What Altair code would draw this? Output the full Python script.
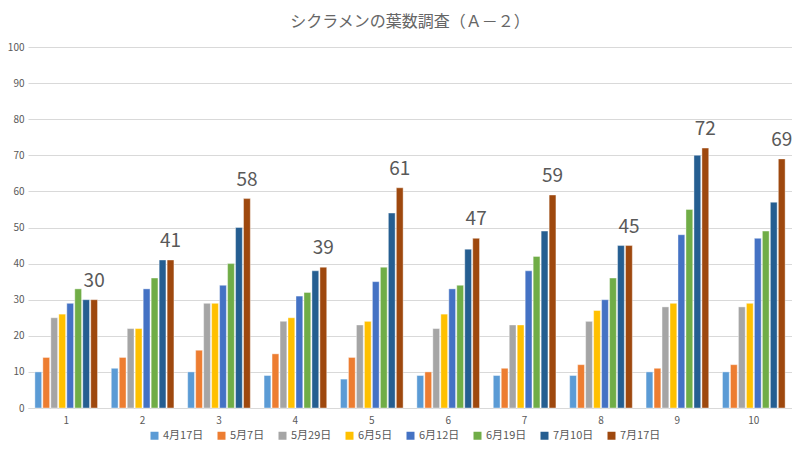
import altair as alt
import pandas as pd

groups = ["1", "2", "3", "4", "5", "6", "7", "8", "9", "10"]
dates = ["4月17日", "5月7日", "5月29日", "6月5日", "6月12日", "6月19日", "7月10日", "7月17日"]

s_0417 = [10, 11, 10, 9, 8, 9, 9, 9, 10, 10]
s_0507 = [14, 14, 16, 15, 14, 10, 11, 12, 11, 12]
s_0529 = [25, 22, 29, 24, 23, 22, 23, 24, 28, 28]
s_0605 = [26, 22, 29, 25, 24, 26, 23, 27, 29, 29]
s_0612 = [29, 33, 34, 31, 35, 33, 38, 30, 48, 47]
s_0619 = [33, 36, 40, 32, 39, 34, 42, 36, 55, 49]
s_0710 = [30, 41, 50, 38, 54, 44, 49, 45, 70, 57]
s_0717 = [30, 41, 58, 39, 61, 47, 59, 45, 72, 69]

colors = ["#5B9BD5", "#ED7D31", "#A5A5A5", "#FFC000", "#4472C4", "#70AD47", "#255E91", "#9E480E"]
title_text = "シクラメンの葉数調査（Ａ－２）"

series = [s_0417, s_0507, s_0529, s_0605, s_0612, s_0619, s_0710, s_0717]
rows = []
for d, vals in zip(dates, series):
    for g, v in zip(groups, vals):
        rows.append({"group": g, "date": d, "value": v})
df = pd.DataFrame(rows)

FONT = "Noto Sans CJK JP"

x_enc = alt.X("group:N", sort=groups,
              scale=alt.Scale(domain=groups, paddingInner=0.18, paddingOuter=0.09),
              axis=alt.Axis(title=None, labelAngle=0, ticks=False, domain=True,
                            domainColor="#d9d9d9", labelPadding=7))
xo_enc = alt.XOffset("date:N", sort=dates,
                     scale=alt.Scale(domain=dates, paddingInner=0.15, paddingOuter=0))
y_enc = alt.Y("value:Q", scale=alt.Scale(domain=[0, 100], nice=False),
              axis=alt.Axis(title=None, values=list(range(0, 101, 10)), ticks=False,
                            domain=False, gridColor="#d9d9d9", labelPadding=4))

bars = alt.Chart(df).mark_bar(stroke="white", strokeWidth=0.4).encode(
    x=x_enc,
    xOffset=xo_enc,
    y=y_enc,
    color=alt.Color("date:N", sort=dates,
                    scale=alt.Scale(domain=dates, range=colors),
                    legend=alt.Legend(title=None, orient="none", direction="horizontal",
                                      legendX=121, legendY=383, columns=8,
                                      symbolType="square", symbolSize=64,
                                      symbolStrokeWidth=0, labelFontSize=11,
                                      labelColor="#595959", labelFont=FONT,
                                      columnPadding=12, labelOffset=3)),
)

labels = alt.Chart(df).transform_filter(
    alt.datum.date == "7月17日"
).mark_text(baseline="bottom", dy=-9, fontSize=19, color="#595959", font=FONT).encode(
    x=x_enc,
    xOffset=xo_enc,
    y=y_enc,
    text=alt.Text("value:Q"),
)

chart = alt.layer(bars, labels).properties(
    width=764,
    height=361,
    title=alt.TitleParams(title_text, fontSize=16, font=FONT, color="#666666",
                          fontWeight="normal", offset=12, anchor="middle"),
    autosize=alt.AutoSizeParams(type="none"),
    padding={"left": 20, "top": 39, "right": 0, "bottom": 40},
).configure_axis(
    labelFont=FONT, labelFontSize=10, labelColor="#595959",
).configure_view(stroke=None)

chart.save("out.html", embed_options={"renderer": "svg", "actions": False})
